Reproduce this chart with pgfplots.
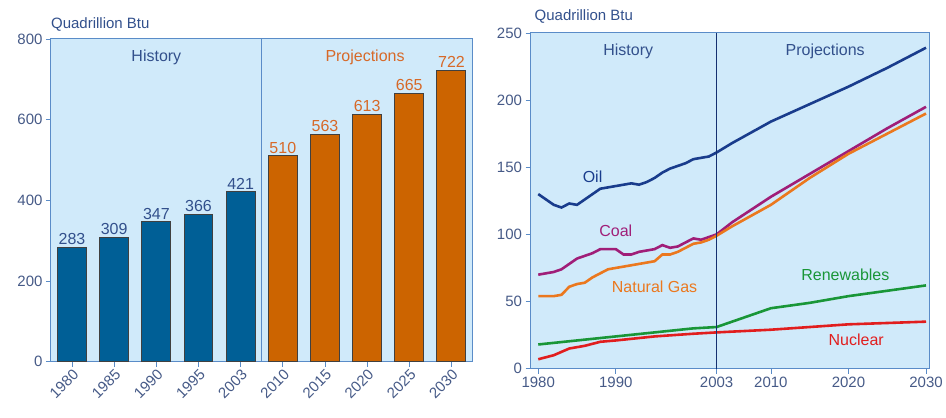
\documentclass[border=0pt]{standalone}
\usepackage{pgfplots}
\pgfplotsset{compat=1.18}
\usepackage{fontspec}
\setmainfont{Liberation Sans}
\definecolor{bg}{RGB}{208,234,250}
\definecolor{histblue}{RGB}{0,95,150}
\definecolor{projorange}{RGB}{204,100,0}
\definecolor{ticktext}{RGB}{70,90,135}
\definecolor{labblue}{RGB}{50,80,140}
\definecolor{laborange}{RGB}{215,105,40}
\definecolor{spine}{RGB}{90,140,200}
\definecolor{oil}{RGB}{25,60,140}
\definecolor{coal}{RGB}{160,30,120}
\definecolor{gas}{RGB}{235,120,30}
\definecolor{ren}{RGB}{25,150,55}
\definecolor{nuc}{RGB}{225,30,30}
\begin{document}
\begin{tikzpicture}
\path (0pt,0pt) rectangle (946pt,418pt);
\pgfplotsset{
  common/.style={
    scale only axis,
    anchor=south west,
    axis background/.style={fill=bg},
    axis line style={spine, line width=1pt},
    tick style={spine, line width=0.8pt},
    tick align=outside,
    major tick length=5pt,
    ticklabel style={ticktext, font=\fontsize{15}{18}\selectfont},
    /pgf/number format/assume math mode=true,
    clip=false,
  }
}
% ---------- left panel ----------
\begin{axis}[common,
  at={(51pt,56pt)}, width=422pt, height=323pt,
  xmin=-0.5, xmax=9.5, ymin=0, ymax=800,
  ytick={0,200,400,600,800},
  xtick={0,1,2,3,4,5,6,7,8,9},
  xticklabels={1980,1985,1990,1995,2003,2010,2015,2020,2025,2030},
  x tick label style={rotate=45, anchor=north east, inner sep=1pt},
  xtick pos=bottom, ytick pos=left,
]
\addplot[ybar, bar width=29pt, bar shift=0pt, fill=histblue, draw=black!75, line width=1pt,
  nodes near coords, nodes near coords style={labblue, font=\fontsize{16}{18}\selectfont, inner sep=2pt}]
  coordinates {(0,283) (1,309) (2,347) (3,366) (4,421)};
\addplot[ybar, bar width=29pt, bar shift=0pt, fill=projorange, draw=black!75, line width=1pt,
  nodes near coords, nodes near coords style={laborange, font=\fontsize{16}{18}\selectfont, inner sep=2pt}]
  coordinates {(5,510) (6,563) (7,613) (8,665) (9,722)};
\addplot[no marks, draw=spine, line width=1pt] coordinates {(4.5,0) (4.5,800)};
\node[labblue, font=\fontsize{16}{18}\selectfont] at (axis cs:2,755) {History};
\node[laborange, font=\fontsize{16}{18}\selectfont] at (axis cs:6.95,755) {Projections};
\node[labblue, anchor=south west, inner sep=0pt, font=\fontsize{15}{18}\selectfont] at ([yshift=7pt]rel axis cs:0,1) {Quadrillion Btu};
\end{axis}
% ---------- right panel ----------
\begin{axis}[common,
  at={(531pt,49pt)}, width=399pt, height=336pt,
  xmin=1979, xmax=2030.4, ymin=0, ymax=250,
  ytick={0,50,100,150,200,250},
  xtick={1980,1990,2003,2010,2020,2030},
  xticklabel style={/pgf/number format/1000 sep={}},
  xtick pos=bottom, ytick pos=left,
]
\addplot[oil, no marks, line width=2.6pt] coordinates {
(1980,130) (1981,126) (1982,122) (1983,120) (1984,123) (1985,122) (1986,126) (1987,130) (1988,134) (1989,135) (1990,136)
(1991,137) (1992,138) (1993,137) (1994,139) (1995,142) (1996,146) (1997,149) (1998,151) (1999,153) (2000,156)
(2001,157) (2002,158) (2003,161) (2005,168) (2010,184) (2015,197) (2020,210) (2025,224) (2030,239)};
\addplot[coal, no marks, line width=2.6pt] coordinates {
(1980,70) (1981,71) (1982,72) (1983,74) (1984,78) (1985,82) (1986,84) (1987,86) (1988,89) (1989,89) (1990,89)
(1991,85) (1992,85) (1993,87) (1994,88) (1995,89) (1996,92) (1997,90) (1998,91) (1999,94) (2000,97)
(2001,96) (2002,98) (2003,100) (2005,109) (2010,128) (2015,145) (2020,162) (2025,179) (2030,195)};
\addplot[gas, no marks, line width=2.6pt] coordinates {
(1980,54) (1981,54) (1982,54) (1983,55) (1984,61) (1985,63) (1986,64) (1987,68) (1988,71) (1989,74) (1990,75)
(1991,76) (1992,77) (1993,78) (1994,79) (1995,80) (1996,85) (1997,85) (1998,87) (1999,90) (2000,93)
(2001,94) (2002,96) (2003,99) (2005,106) (2010,122) (2015,142) (2020,160) (2025,175) (2030,190)};
\addplot[ren, no marks, line width=2.6pt] coordinates {
(1980,18) (1985,21) (1990,24) (1995,27) (2000,30) (2003,31) (2005,35) (2010,45) (2015,49) (2020,54) (2025,58) (2030,62)};
\addplot[nuc, no marks, line width=2.6pt] coordinates {
(1980,7) (1982,10) (1984,15) (1986,17) (1988,20) (1990,21) (1995,24) (2000,26) (2003,27) (2010,29) (2015,31) (2020,33) (2025,34) (2030,35)};
\addplot[oil!80!black, no marks, line width=1pt] coordinates {(2003,0) (2003,250)};
\node[labblue, font=\fontsize{16}{18}\selectfont] at (axis cs:1991.6,236) {History};
\node[labblue, font=\fontsize{16}{18}\selectfont] at (axis cs:2017,236) {Projections};
\node[oil, font=\fontsize{16}{18}\selectfont] at (axis cs:1987,143) {Oil};
\node[coal, font=\fontsize{16}{18}\selectfont] at (axis cs:1990,103) {Coal};
\node[gas, font=\fontsize{16}{18}\selectfont] at (axis cs:1995,61) {Natural Gas};
\node[ren, font=\fontsize{16}{18}\selectfont] at (axis cs:2019.6,70) {Renewables};
\node[nuc, font=\fontsize{16}{18}\selectfont] at (axis cs:2021,21.5) {Nuclear};
\node[labblue, anchor=south west, inner sep=0pt, font=\fontsize{15}{18}\selectfont] at ([xshift=4pt,yshift=9pt]rel axis cs:0,1) {Quadrillion Btu};
\end{axis}
\end{tikzpicture}
\end{document}
